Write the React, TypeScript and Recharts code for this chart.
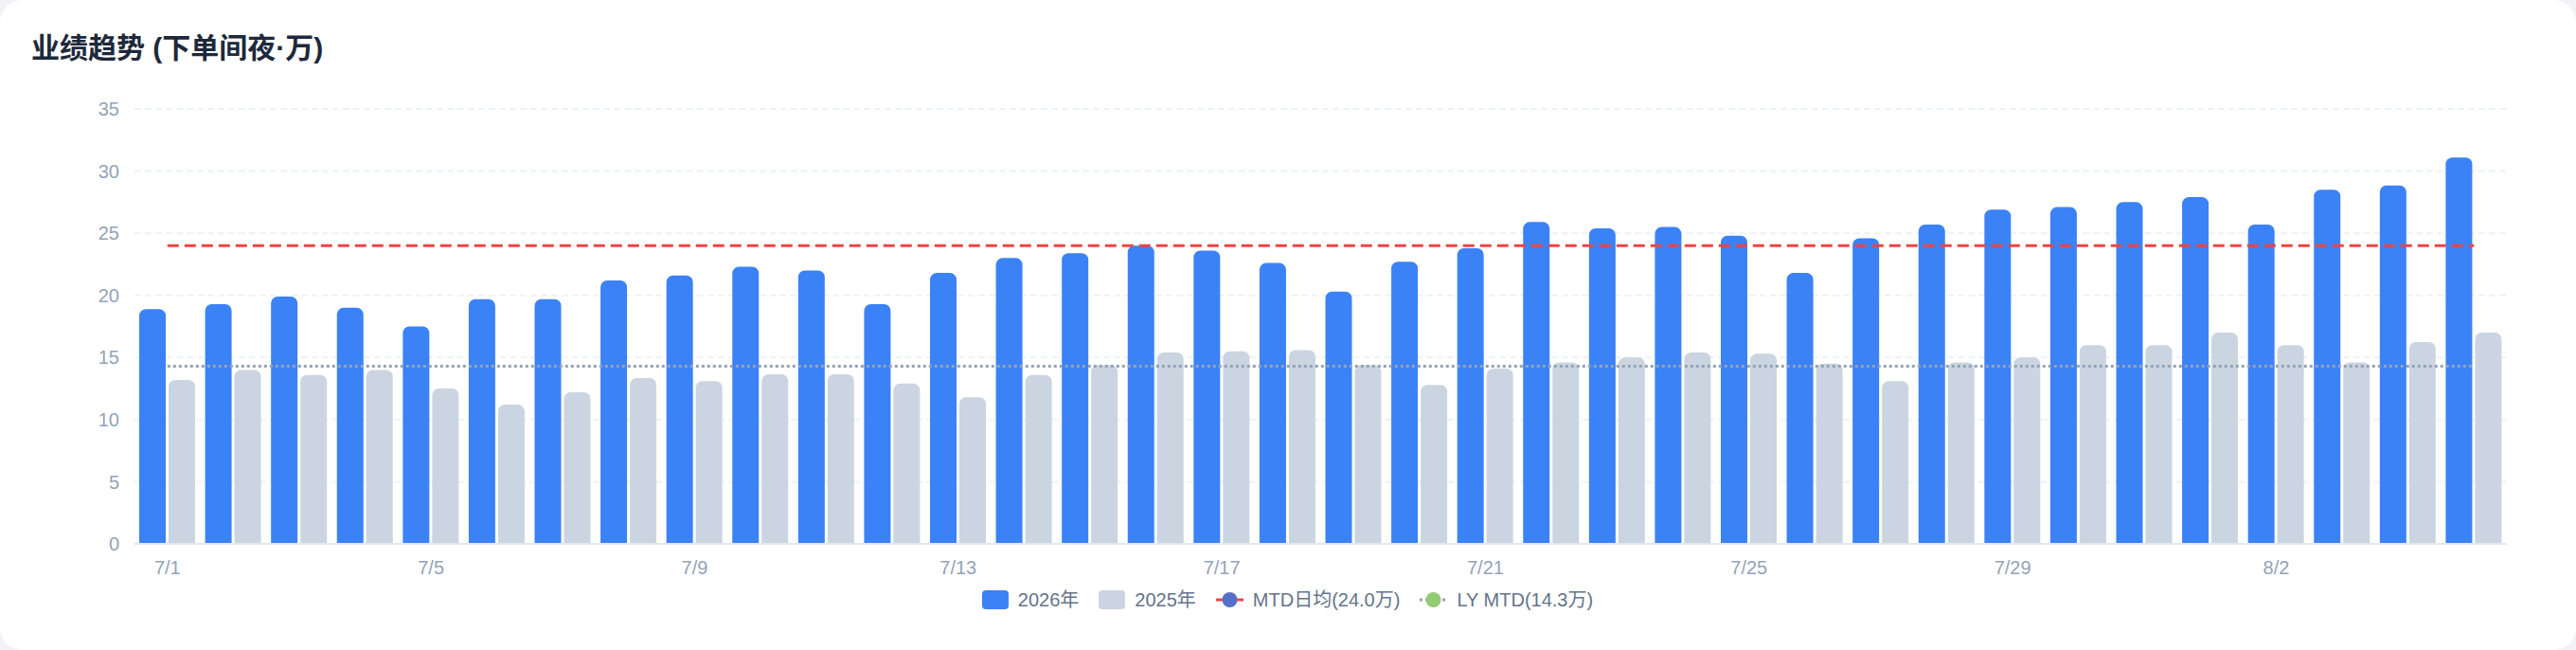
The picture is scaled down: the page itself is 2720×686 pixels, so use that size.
import React from "react";
import { ComposedChart, Bar, Line, XAxis, YAxis, CartesianGrid } from "recharts";

const dates = [
  "7/1", "7/2", "7/3", "7/4", "7/5", "7/6", "7/7", "7/8", "7/9", "7/10",
  "7/11", "7/12", "7/13", "7/14", "7/15", "7/16", "7/17", "7/18", "7/19", "7/20",
  "7/21", "7/22", "7/23", "7/24", "7/25", "7/26", "7/27", "7/28", "7/29", "7/30",
  "7/31", "8/1", "8/2", "8/3", "8/4", "8/5",
];

const values2026 = [
  18.9, 19.3, 19.9, 19.0, 17.5, 19.7, 19.7, 21.2, 21.6, 22.3,
  22.0, 19.3, 21.8, 23.0, 23.4, 24.0, 23.6, 22.6, 20.3, 22.7,
  23.8, 25.9, 25.4, 25.5, 24.8, 21.8, 24.6, 25.7, 26.9, 27.1,
  27.5, 27.9, 25.7, 28.5, 28.85, 31.1,
];

const values2025 = [
  13.2, 14.0, 13.6, 14.0, 12.5, 11.2, 12.2, 13.35, 13.1, 13.65,
  13.65, 12.9, 11.8, 13.6, 14.4, 15.4, 15.5, 15.6, 14.4, 12.8,
  14.1, 14.6, 15.0, 15.4, 15.3, 14.5, 13.1, 14.6, 15.0, 16.0,
  16.0, 17.0, 16.0, 14.6, 16.25, 17.0,
];

const mtdAvg = 24.0;
const lyMtd = 14.3;

const yTicks = [0, 5, 10, 15, 20, 25, 30, 35];

const seriesNames = {
  cur: "2026年",
  prev: "2025年",
  mtd: "MTD日均(24.0万)",
  ly: "LY MTD(14.3万)",
};

const chartData = dates.map((d, i) => ({
  date: d,
  cur: values2026[i],
  prev: values2025[i],
  mtd: mtdAvg,
  ly: lyMtd,
}));

const FONT = '"Liberation Sans", Arial, "Noto Sans CJK SC", sans-serif';

const LegendItem = ({ icon, label }: { icon: React.ReactNode; label: string }) => (
  <div style={{ display: "flex", alignItems: "center", marginRight: 21 }}>
    {icon}
    <span style={{ marginLeft: 10, fontSize: 20, color: "#64748b", fontFamily: FONT, lineHeight: "20px" }}>{label}</span>
  </div>
);

const SquareIcon = ({ color }: { color: string }) => (
  <div style={{ width: 28, height: 20, borderRadius: 4, background: color }} />
);

const LineIcon = ({ lineColor, dotColor, dash }: { lineColor: string; dotColor: string; dash: string }) => (
  <svg width={29} height={20} style={{ display: "block" }}>
    <line x1={0} y1={10} x2={29} y2={10} stroke={lineColor} strokeWidth={3} strokeDasharray={dash} />
    <circle cx={14.5} cy={10} r={8} fill={dotColor} />
  </svg>
);

export default function App() {
  return (
    <div
      style={{
        position: "absolute",
        left: 0,
        top: 0,
        width: 2720,
        height: 686,
        background: "#f1f3f6",
        fontFamily: FONT,
      }}
    >
      <div
        style={{
          position: "absolute",
          left: 0,
          top: 0,
          width: 2720,
          height: 686,
          background: "#ffffff",
          borderRadius: 24,
          boxSizing: "border-box",
        }}
      >
        <div
          style={{
            position: "absolute",
            left: 33,
            top: 34,
            fontSize: 30,
            lineHeight: "34px",
            fontWeight: 700,
            color: "#1e293b",
            fontFamily: '"Liberation Sans", Arial, "Noto Sans CJK SC", sans-serif',
            whiteSpace: "nowrap",
          }}
        >
          业绩趋势 (下单间夜·万)
        </div>

        <div style={{ position: "absolute", left: 0, top: 0 }}>
          <ComposedChart
            width={2720}
            height={686}
            data={chartData}
            margin={{ top: 115, right: 73, left: 0, bottom: 82 }}
            barSize={28}
            barGap={3}
          >
            <CartesianGrid vertical={false} stroke="#eef2f6" strokeWidth={2} strokeDasharray="7 4" />
            <XAxis
              dataKey="date"
              interval={3}
              tickLine={false}
              tickSize={0}
              tickMargin={18}
              axisLine={{ stroke: "#e2e8f0", strokeWidth: 2 }}
              tick={{ fill: "#94a3b8", fontSize: 20, fontFamily: FONT }}
              height={30}
            />
            <YAxis
              domain={[0, 35]}
              ticks={yTicks}
              interval={0}
              width={142}
              axisLine={false}
              tickLine={false}
              tickSize={0}
              tickMargin={16}
              tick={{ fill: "#94a3b8", fontSize: 20, fontFamily: FONT }}
            />
            <Bar dataKey="cur" name={seriesNames.cur} fill="#3b82f6" radius={[7, 7, 0, 0]} isAnimationActive={false} />
            <Bar dataKey="prev" name={seriesNames.prev} fill="#cbd5e1" radius={[7, 7, 0, 0]} isAnimationActive={false} />
            <Line
              dataKey="mtd"
              name={seriesNames.mtd}
              stroke="#ef4444"
              strokeWidth={3}
              strokeDasharray="12 6"
              dot={false}
              activeDot={false}
              type="linear"
              isAnimationActive={false}
            />
            <Line
              dataKey="ly"
              name={seriesNames.ly}
              stroke="#94a3b8"
              strokeWidth={3}
              strokeDasharray="3 3"
              dot={false}
              activeDot={false}
              type="linear"
              isAnimationActive={false}
            />
          </ComposedChart>
        </div>

        <div
          style={{
            position: "absolute",
            left: 10,
            top: 623,
            width: 2720,
            display: "flex",
            justifyContent: "center",
            alignItems: "center",
          }}
        >
          <LegendItem icon={<SquareIcon color="#3b82f6" />} label={seriesNames.cur} />
          <LegendItem icon={<SquareIcon color="#cbd5e1" />} label={seriesNames.prev} />
          <LegendItem icon={<LineIcon lineColor="#ef4444" dotColor="#5470c6" dash="7 4" />} label={seriesNames.mtd} />
          <LegendItem icon={<LineIcon lineColor="#94a3b8" dotColor="#91cc75" dash="3 3" />} label={seriesNames.ly} />
        </div>
      </div>
    </div>
  );
}
